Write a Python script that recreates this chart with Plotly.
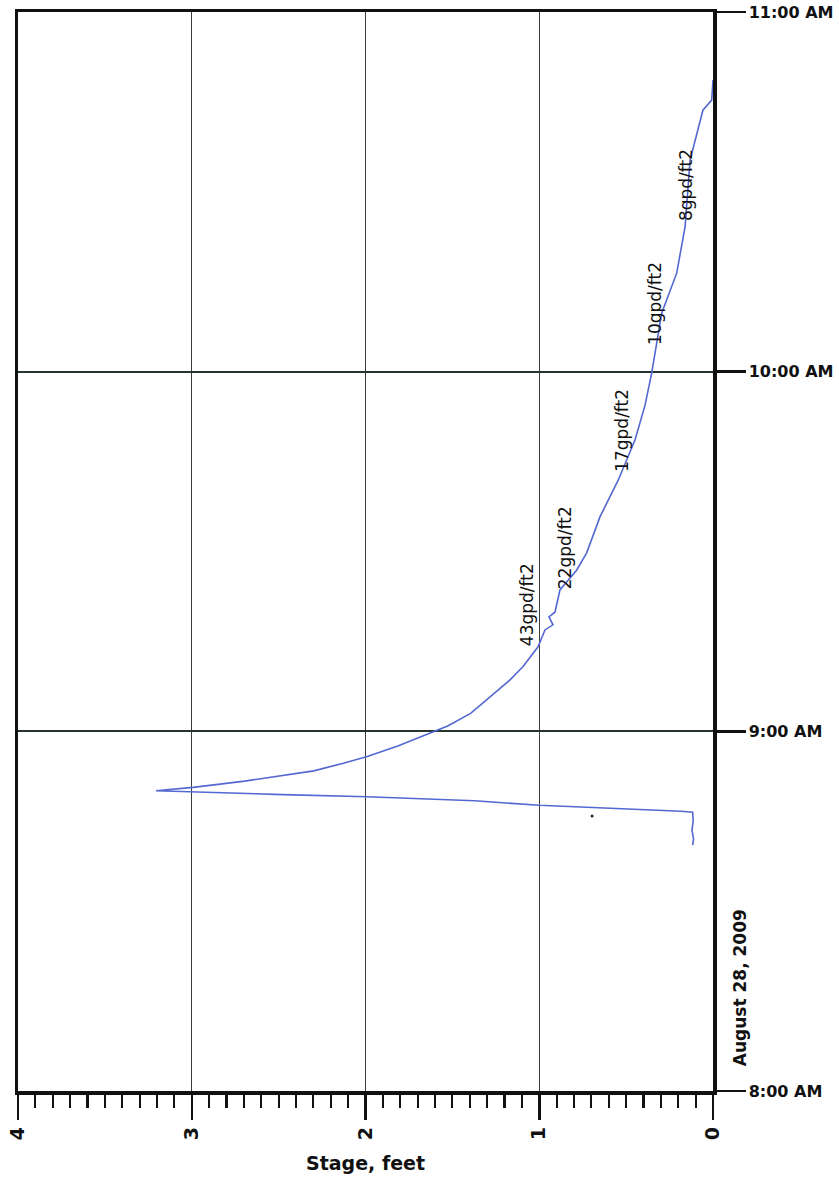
import plotly.graph_objects as go

DATE = "2009-08-28"

# Recorded stage (feet) vs clock time
times = ["08:41:00", "08:42:00", "08:43:30", "08:45:00", "08:46:30", "08:46:40",
         "08:47:40", "08:48:25", "08:49:05", "08:49:26", "08:50:06", "08:50:39",
         "08:51:42", "08:53:24", "08:54:42", "08:55:47", "08:57:34", "08:59:09",
         "09:00:53", "09:02:59", "09:05:13", "09:08:35", "09:10:48", "09:14:06",
         "09:16:55", "09:17:46", "09:19:05", "09:19:55", "09:23:35", "09:26:53",
         "09:29:46", "09:35:49", "09:41:56", "09:48:36", "09:54:25", "09:59:46",
         "10:09:47", "10:16:26", "10:24:07", "10:35:17", "10:43:37", "10:44:38",
         "10:45:18", "10:48:40"]
stage = [0.117, 0.112, 0.121, 0.114, 0.117, 0.184,
         1.0, 1.373, 1.99, 2.475, 3.206, 2.992,
         2.695, 2.298, 2.122, 1.99, 1.814, 1.681,
         1.527, 1.395, 1.307, 1.168, 1.093, 1.007,
         0.967, 0.921, 0.944, 0.909, 0.881, 0.785,
         0.727, 0.65, 0.545, 0.449, 0.391, 0.353,
         0.295, 0.209, 0.161, 0.132, 0.058, 0.029,
         0.0075, 0.0]

# stray dot on the record
dot_time = ["08:45:52"]
dot_stage = [0.696]

# infiltration-rate labels
label_text = ["43gpd/ft2", "22gpd/ft2", "17gpd/ft2", "10gpd/ft2", "8gpd/ft2"]
label_stage = [1.07, 0.852, 0.524, 0.334, 0.155]
label_time = ["09:21:04", "09:30:43", "09:50:17", "10:11:28", "10:31:08"]

# axes ticks
stage_ticks = [4, 3, 2, 1, 0]
stage_ticktext = ["4", "3", "2", "1", "0"]
time_ticks = ["08:00", "09:00", "10:00", "11:00"]
time_ticktext = ["8:00 AM", "9:00 AM", "10:00 AM", "11:00 AM"]

def dt(t):
    return f"{DATE} {t}"

fig = go.Figure()
fig.add_trace(go.Scatter(
    x=stage, y=[dt(t) for t in times], mode="lines",
    line=dict(color="#5468d2", width=1.6), hoverinfo="skip"))
fig.add_trace(go.Scatter(
    x=dot_stage, y=[dt(t) for t in dot_time], mode="markers",
    marker=dict(color="#222", size=3), hoverinfo="skip"))

for txt, s, t in zip(label_text, label_stage, label_time):
    fig.add_annotation(x=s, y=dt(t), text=txt, textangle=-90, showarrow=False,
                       xanchor="center", yanchor="middle",
                       font=dict(family="DejaVu Sans", size=17, color="#111"))

fig.add_annotation(xref="paper", yref="paper", x=1.040, y=0.096,
                   xanchor="center", yanchor="middle",
                   text="August 28, 2009", textangle=-90, showarrow=False,
                   font=dict(family="DejaVu Sans", size=17, color="#111", weight="bold"))

fig.update_xaxes(
    range=[4, 0], tickvals=stage_ticks, ticktext=stage_ticktext, tickangle=-90,
    tickfont=dict(family="DejaVu Sans", size=19, color="#111", weight="bold"),
    ticks="outside", ticklen=25, tickwidth=2.5, tickcolor="#111",
    minor=dict(dtick=0.1, tick0=0, ticks="outside", ticklen=13, tickwidth=2.2,
               tickcolor="#111", showgrid=False),
    showline=True, linecolor="#111", linewidth=3.5, mirror=True,
    showgrid=True, gridcolor="#3c3c3c", gridwidth=1.3, zeroline=False,
    automargin=False, ticklabeloverflow="allow",
    title=dict(text="Stage, feet", standoff=18,
               font=dict(family="DejaVu Sans", size=19, color="#111", weight="bold")))

fig.update_yaxes(
    type="date", side="right",
    range=[dt("08:00"), dt("11:00")],
    tickvals=[dt(t) for t in time_ticks], ticktext=time_ticktext, tickangle=0,
    tickfont=dict(family="DejaVu Sans", size=16, color="#111", weight="bold"),
    ticks="outside", ticklen=29, tickwidth=2.5, tickcolor="#111",
    showline=True, linecolor="#111", linewidth=3.5, mirror=True,
    showgrid=True, gridcolor="#26332e", gridwidth=1.7, zeroline=False,
    automargin=False, ticklabeloverflow="allow")

fig.update_layout(
    width=839, height=1184, showlegend=False,
    margin=dict(l=18, r=126, t=12, b=93, autoexpand=False),
    plot_bgcolor="white", paper_bgcolor="white")

# remove the browser's default 8px body margin so the figure fills the window exactly
fig.write_html("out.html",
               config={"displayModeBar": False, "staticPlot": True},
               post_script="document.body.style.margin='0';document.body.style.overflow='hidden';")
